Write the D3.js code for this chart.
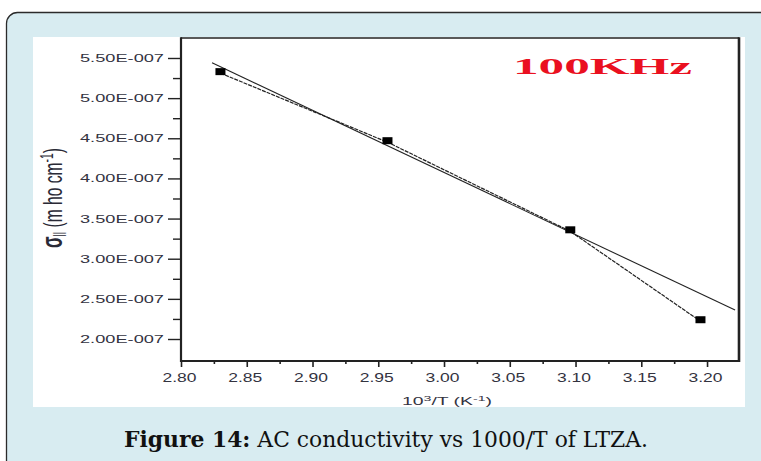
<!DOCTYPE html>
<html>
<head>
<meta charset="utf-8">
<script src="https://cdn.jsdelivr.net/npm/d3@7"></script>
<style>
html,body{margin:0;padding:0;background:#fff;}
svg{display:block;}
</style>
</head>
<body>
<svg id="chart" width="761" height="461"></svg>
<script>
// ---- data ----
const xData = [2.830, 2.957, 3.096, 3.195];
const yData = [5.33e-7, 4.47e-7, 3.36e-7, 2.24e-7];
const fitX = [2.8236, 3.2213];
const fitY = [5.44e-7, 2.36e-7];
const xTicks = [2.80, 2.85, 2.90, 2.95, 3.00, 3.05, 3.10, 3.15, 3.20];
const xTickLabels = ["2.80", "2.85", "2.90", "2.95", "3.00", "3.05", "3.10", "3.15", "3.20"];
const yTicks = [2.0e-7, 2.5e-7, 3.0e-7, 3.5e-7, 4.0e-7, 4.5e-7, 5.0e-7, 5.5e-7];
const yTickLabels = ["2.00E-007", "2.50E-007", "3.00E-007", "3.50E-007", "4.00E-007", "4.50E-007", "5.00E-007", "5.50E-007"];
const xMinor = [2.825, 2.875, 2.925, 2.975, 3.025, 3.075, 3.125, 3.175, 3.225];
const yMinor = [2.25e-7, 2.75e-7, 3.25e-7, 3.75e-7, 4.25e-7, 4.75e-7, 5.25e-7];
const annotation = "100KHz";

const svg = d3.select("#chart");

// outer frame
svg.append("rect").attr("x", 6.5).attr("y", 12.5).attr("width", 800).attr("height", 500)
  .attr("rx", 11).attr("fill", "#d8ecf1").attr("stroke", "#2b2b2b").attr("stroke-width", 1.3);

// white image area
svg.append("rect").attr("x", 33).attr("y", 37).attr("width", 712).attr("height", 370).attr("fill", "#fff");

const L = 181, R = 739, T = 38, B = 361;
const x = d3.scaleLinear().domain([2.80, 3.2243]).range([L, R]);
const y = d3.scaleLinear().domain([1.726e-7, 5.749e-7]).range([B, T]);

const tickFont = "'Liberation Sans', Arial, sans-serif";

// minor ticks
svg.append("g").attr("transform", `translate(${L},0)`)
  .call(d3.axisLeft(y).tickValues(yMinor).tickSize(8).tickFormat(""))
  .call(g => g.select(".domain").remove())
  .call(g => g.selectAll("line").attr("stroke", "#222").attr("stroke-width", 1.4));
svg.append("g").attr("transform", `translate(0,${B})`)
  .call(d3.axisBottom(x).tickValues(xMinor.filter(v => v < 3.2243)).tickSize(3).tickFormat(""))
  .call(g => g.select(".domain").remove())
  .call(g => g.selectAll("line").attr("stroke", "#222").attr("stroke-width", 1.6));

// major y axis
svg.append("g").attr("transform", `translate(${L},0)`)
  .call(d3.axisLeft(y).tickValues(yTicks).tickSize(13).tickPadding(4)
    .tickFormat((d, i) => yTickLabels[i]))
  .call(g => g.select(".domain").remove())
  .call(g => g.selectAll("line").attr("stroke", "#222").attr("stroke-width", 1.4))
  .call(g => g.selectAll("text").attr("font-family", tickFont).attr("font-size", 11)
    .attr("fill", "#33333f").attr("textLength", 84).attr("lengthAdjust", "spacingAndGlyphs"));

// major x axis
svg.append("g").attr("transform", `translate(0,${B})`)
  .call(d3.axisBottom(x).tickValues(xTicks).tickSize(6).tickPadding(6)
    .tickFormat((d, i) => xTickLabels[i]))
  .call(g => g.select(".domain").remove())
  .call(g => g.selectAll("line").attr("stroke", "#222").attr("stroke-width", 1.6))
  .call(g => g.selectAll("text").attr("font-family", tickFont).attr("font-size", 12)
    .attr("fill", "#33333f").attr("dx", -2).attr("textLength", 34).attr("lengthAdjust", "spacingAndGlyphs"));

// frame lines
svg.append("line").attr("x1", L).attr("x2", R).attr("y1", T).attr("y2", T).attr("stroke", "#222").attr("stroke-width", 1.5);
svg.append("line").attr("x1", R).attr("x2", R).attr("y1", T - 0.7).attr("y2", B + 1).attr("stroke", "#222").attr("stroke-width", 2.6);
svg.append("line").attr("x1", L).attr("x2", L).attr("y1", T - 0.7).attr("y2", B + 1).attr("stroke", "#222").attr("stroke-width", 2.2);
svg.append("line").attr("x1", L - 1).attr("x2", R).attr("y1", B).attr("y2", B).attr("stroke", "#222").attr("stroke-width", 2.2);

// fit line
svg.append("path")
  .attr("d", d3.line().x(d => x(d[0])).y(d => y(d[1]))(fitX.map((v, i) => [v, fitY[i]])))
  .attr("fill", "none").attr("stroke", "#222").attr("stroke-width", 1.1);

// data line
const pts = xData.map((v, i) => [v, yData[i]]);
svg.append("path")
  .attr("d", d3.line().x(d => x(d[0])).y(d => y(d[1]) + 1.5)(pts))
  .attr("fill", "none").attr("stroke", "#222").attr("stroke-width", 1.2)
  .attr("stroke-dasharray", "4,1");

// markers
svg.selectAll("rect.pt").data(pts).enter().append("rect").attr("class", "pt")
  .attr("x", d => x(d[0]) - 5).attr("y", d => y(d[1]) - 3.5)
  .attr("width", 10).attr("height", 7).attr("fill", "#000");

// annotation
svg.append("text").attr("x", 513).attr("y", 74).text(annotation)
  .attr("font-family", "'Liberation Serif', 'Times New Roman', serif").attr("font-weight", "bold")
  .attr("font-size", 24).attr("fill", "#ea1020")
  .attr("textLength", 179).attr("lengthAdjust", "spacingAndGlyphs");

// x axis title
const xt = svg.append("text").attr("x", 447).attr("y", 405).attr("text-anchor", "middle")
  .attr("font-family", tickFont).attr("font-size", 11).attr("fill", "#33333f")
  .attr("textLength", 90).attr("lengthAdjust", "spacingAndGlyphs");
xt.append("tspan").text("10");
xt.append("tspan").attr("dy", -4).attr("font-size", 8).text("3");
xt.append("tspan").attr("dy", 4).text("/T (K");
xt.append("tspan").attr("dy", -4).attr("font-size", 8).text("-1");
xt.append("tspan").attr("dy", 4).text(")");

// y axis title
const yt = svg.append("text").attr("transform", "translate(62,248) rotate(-90) scale(1,2.2)")
  .attr("font-family", tickFont).attr("font-size", 12).attr("fill", "#2a2a36")
  .attr("textLength", 100).attr("lengthAdjust", "spacingAndGlyphs");
yt.append("tspan").attr("font-weight", "bold").attr("font-size", 13).text("σ");
yt.append("tspan").attr("dy", 2).attr("font-size", 8).text("ll");
yt.append("tspan").attr("dy", -2).text(" (m ho cm");
yt.append("tspan").attr("dy", -4).attr("font-size", 8).text("-1");
yt.append("tspan").attr("dy", 4).text(")");

// caption
const cap = svg.append("text").attr("x", 124).attr("y", 447)
  .attr("font-family", "'DejaVu Serif', serif").attr("font-size", 22).attr("fill", "#111")
  .attr("textLength", 524).attr("lengthAdjust", "spacingAndGlyphs");
cap.append("tspan").attr("font-weight", "bold").text("Figure 14:");
cap.append("tspan").text(" AC conductivity vs 1000/T of LTZA.");
</script>
</body>
</html>
